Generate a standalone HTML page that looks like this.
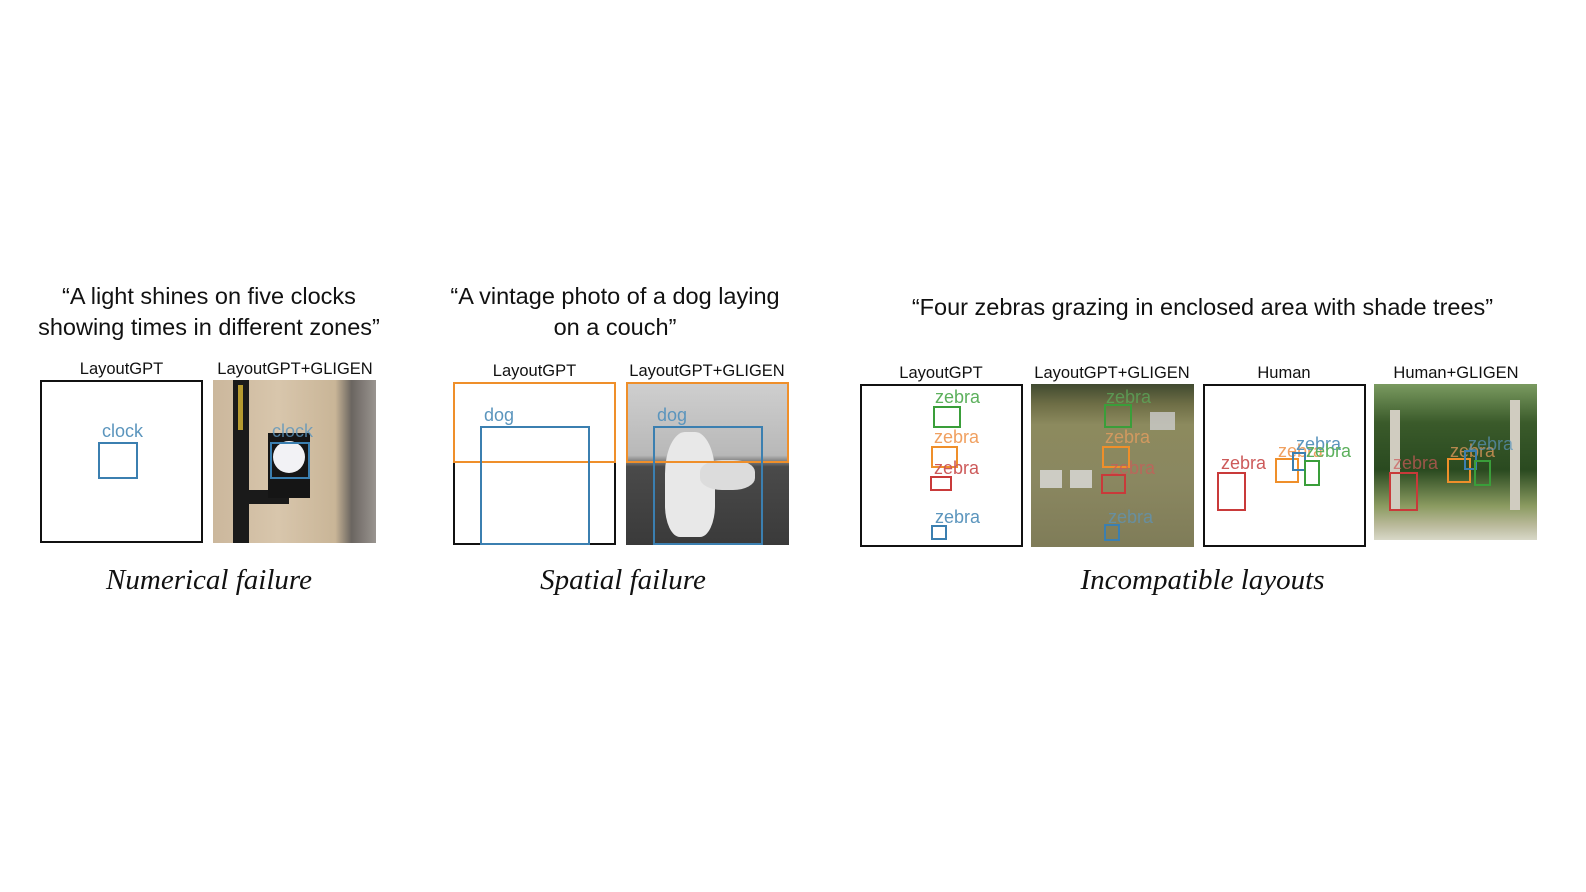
<!DOCTYPE html>
<html><head><meta charset="utf-8"><style>
body{margin:0;width:1586px;height:892px;background:#fff;position:relative;overflow:hidden;font-family:"Liberation Sans",sans-serif}
.a{position:absolute}
.q{position:absolute;font-size:23.5px;color:#111;text-align:center;line-height:31px;white-space:nowrap}
.lab{position:absolute;font-size:16.5px;color:#111;text-align:center;white-space:nowrap}
.cap{position:absolute;font-family:"Liberation Serif",serif;font-style:italic;font-size:29px;color:#111;text-align:center;white-space:nowrap}
.fr{position:absolute;border:2px solid #111;box-sizing:border-box;background:#fff}
.b{position:absolute;box-sizing:border-box;border:2.5px solid}
.t{position:absolute;font-size:18px;white-space:nowrap;line-height:18px}
.bl{border-color:#3b7fb0}.or{border-color:#ef8f2a}.gr{border-color:#3a9e3a}.rd{border-color:#c93a3a}
.cb{color:#5b95bd}.co{color:#f0a060}.cg{color:#5cb05c}.cr{color:#cd5a5a}
</style></head><body>

<div class="q" style="left:0;width:418px;top:281px">“A light shines on five clocks<br>showing times in different zones”</div>
<div class="q" style="left:405px;width:420px;top:281px">“A vintage photo of a dog laying<br>on a couch”</div>
<div class="q" style="left:850px;width:705px;top:292px">“Four zebras grazing in enclosed area with shade trees”</div>

<!-- panel 1 -->
<div class="lab" style="left:40px;width:163px;top:360px">LayoutGPT</div>
<div class="lab" style="left:200px;width:190px;top:360px">LayoutGPT+GLIGEN</div>
<div class="fr" style="left:40px;top:380px;width:163px;height:163px"></div>
<div class="t cb" style="left:102px;top:422px">clock</div>
<div class="b bl" style="left:98px;top:442px;width:40px;height:37px"></div>
<div class="a" style="left:213px;top:380px;width:163px;height:163px;background:linear-gradient(90deg,#cbb79c,#d8c6ac 40%,#c9b597 75%,#6a6560 85%,#9a9590 100%)"></div>
<div class="a" style="left:233px;top:380px;width:16px;height:163px;background:#1a1a1a"></div>
<div class="a" style="left:238px;top:385px;width:5px;height:45px;background:#b59a30"></div>
<div class="a" style="left:249px;top:490px;width:40px;height:14px;background:#1a1a1a"></div>
<div class="a" style="left:268px;top:433px;width:42px;height:65px;background:#151515"></div>
<div class="a" style="left:273px;top:441px;width:32px;height:32px;border-radius:50%;background:#f2f2f5"></div>
<div class="t cb" style="left:272px;top:422px;opacity:.8">clock</div>
<div class="b bl" style="left:270px;top:442px;width:40px;height:37px"></div>

<!-- panel 2 -->
<div class="lab" style="left:453px;width:163px;top:362px">LayoutGPT</div>
<div class="lab" style="left:612px;width:190px;top:362px">LayoutGPT+GLIGEN</div>
<div class="fr" style="left:453px;top:382px;width:163px;height:163px"></div>
<div class="b or" style="left:453px;top:382px;width:163px;height:81px"></div>
<div class="t cb" style="left:484px;top:406px">dog</div>
<div class="b bl" style="left:480px;top:426px;width:110px;height:119px"></div>
<div class="a" style="left:626px;top:382px;width:163px;height:163px;background:linear-gradient(180deg,#cfcfcf,#b8b8b8 45%,#4a4a4a 52%,#3a3a3a 100%)"></div>
<div class="a" style="left:665px;top:432px;width:50px;height:105px;border-radius:40% 40% 30% 30%;background:#e8e8e8"></div>
<div class="a" style="left:700px;top:460px;width:55px;height:30px;border-radius:40%;background:#dcdcdc"></div>
<div class="t cb" style="left:657px;top:406px">dog</div>
<div class="b or" style="left:626px;top:382px;width:163px;height:81px"></div>
<div class="b bl" style="left:653px;top:426px;width:110px;height:119px"></div>

<!-- panel 3 -->
<div class="lab" style="left:860px;width:162px;top:364px">LayoutGPT</div>
<div class="lab" style="left:1017px;width:190px;top:364px">LayoutGPT+GLIGEN</div>
<div class="lab" style="left:1203px;width:162px;top:364px">Human</div>
<div class="lab" style="left:1366px;width:180px;top:364px">Human+GLIGEN</div>

<div class="fr" style="left:860px;top:384px;width:163px;height:163px"></div>
<div class="t cg" style="left:935px;top:388px">zebra</div>
<div class="b gr" style="left:933px;top:406px;width:28px;height:22px"></div>
<div class="t co" style="left:934px;top:428px">zebra</div>
<div class="b or" style="left:931px;top:446px;width:27px;height:22px"></div>
<div class="t cr" style="left:934px;top:459px">zebra</div>
<div class="b rd" style="left:930px;top:476px;width:22px;height:15px"></div>
<div class="t cb" style="left:935px;top:508px">zebra</div>
<div class="b bl" style="left:931px;top:525px;width:16px;height:15px"></div>

<div class="a" style="left:1031px;top:384px;width:163px;height:163px;background:linear-gradient(180deg,#404a30 0,#6d6d45 12%,#8c8a5e 25%,#8a8760 60%,#7f7c58 100%)"></div>
<div class="t cg" style="left:1106px;top:388px;opacity:.7">zebra</div>
<div class="b gr" style="left:1104px;top:404px;width:28px;height:24px"></div>
<div class="t co" style="left:1105px;top:428px;opacity:.7">zebra</div>
<div class="b or" style="left:1102px;top:446px;width:28px;height:22px"></div>
<div class="t cr" style="left:1110px;top:459px;opacity:.7">zebra</div>
<div class="b rd" style="left:1101px;top:474px;width:25px;height:20px"></div>
<div class="t cb" style="left:1108px;top:508px;opacity:.7">zebra</div>
<div class="b bl" style="left:1104px;top:524px;width:16px;height:17px"></div>
<div class="a" style="left:1040px;top:470px;width:22px;height:18px;background:#ddd;opacity:.8"></div>
<div class="a" style="left:1070px;top:470px;width:22px;height:18px;background:#ddd;opacity:.8"></div>
<div class="a" style="left:1150px;top:412px;width:25px;height:18px;background:#ccc;opacity:.8"></div>

<div class="fr" style="left:1203px;top:384px;width:163px;height:163px"></div>
<div class="t cr" style="left:1221px;top:454px">zebra</div>
<div class="b rd" style="left:1217px;top:472px;width:29px;height:39px"></div>
<div class="t co" style="left:1278px;top:442px">zebra</div>
<div class="t cb" style="left:1296px;top:435px">zebra</div>
<div class="t cg" style="left:1306px;top:442px">zebra</div>
<div class="b or" style="left:1275px;top:458px;width:24px;height:25px"></div>
<div class="b bl" style="left:1292px;top:452px;width:14px;height:19px"></div>
<div class="b gr" style="left:1304px;top:460px;width:16px;height:26px"></div>

<div class="a" style="left:1374px;top:384px;width:163px;height:156px;background:linear-gradient(180deg,#7a9a60 0,#3a5a2a 25%,#2a4a20 55%,#8a9a60 78%,#b8b898 90%,#d8d8c8 100%)"></div>
<div class="a" style="left:1390px;top:410px;width:10px;height:100px;background:#d0ccc0"></div>
<div class="a" style="left:1510px;top:400px;width:10px;height:110px;background:#d0ccc0"></div>
<div class="t cr" style="left:1393px;top:454px;opacity:.7">zebra</div>
<div class="b rd" style="left:1389px;top:472px;width:29px;height:39px"></div>
<div class="t co" style="left:1450px;top:442px;opacity:.7">zebra</div>
<div class="t cb" style="left:1468px;top:435px;opacity:.7">zebra</div>
<div class="b or" style="left:1447px;top:458px;width:24px;height:25px"></div>
<div class="b bl" style="left:1464px;top:450px;width:13px;height:20px"></div>
<div class="b gr" style="left:1474px;top:460px;width:17px;height:26px"></div>

<div class="cap" style="left:0;width:418px;top:564px">Numerical failure</div>
<div class="cap" style="left:413px;width:420px;top:564px">Spatial failure</div>
<div class="cap" style="left:850px;width:705px;top:564px">Incompatible layouts</div>
</body></html>
